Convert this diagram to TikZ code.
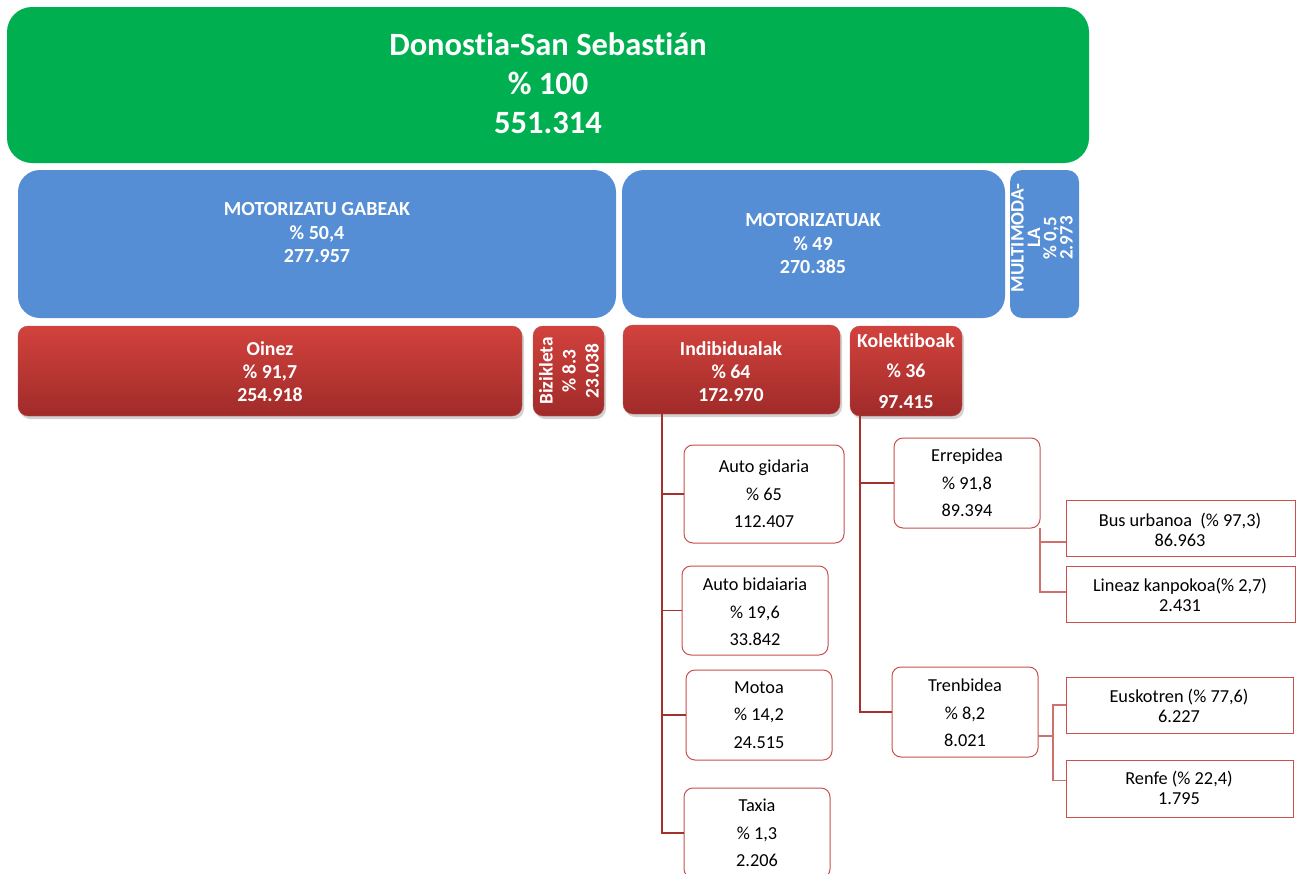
\documentclass[tikz,border=0pt]{standalone}
\usepackage{fontspec}
\setmainfont[Ligatures={NoCommon}]{Carlito}
\usetikzlibrary{shadows}
\definecolor{tgreen}{HTML}{00B050}
\definecolor{tblue}{HTML}{558ED5}
\definecolor{rtop}{HTML}{D2423D}
\definecolor{rbot}{HTML}{A02B29}
\definecolor{leafb}{HTML}{C9504D}
\definecolor{trunkc}{HTML}{A3312E}
\definecolor{twigc}{HTML}{D0706D}
\begin{document}
\begin{tikzpicture}[x=1pt,y=-1pt,
  boxbase/.style={rectangle, inner sep=0pt, outer sep=0pt, anchor=north west},
  greenbox/.style={boxbase, fill=tgreen, rounded corners=25pt},
  bluebox/.style={boxbase, fill=tblue, rounded corners=22pt},
  redbox/.style={boxbase, rounded corners=10pt, top color=rtop, bottom color=rbot, draw=rbot!80, line width=0.4pt,
     drop shadow={opacity=0.35, shadow xshift=2pt, shadow yshift=-3pt}},
  leafbox/.style={boxbase, rounded corners=9pt, draw=leafb, line width=1pt, fill=white},
  sqbox/.style={boxbase, draw=leafb, line width=1pt, fill=white},
  bigtxt/.style={align=center, text=white, font=\bfseries\fontsize{32.5}{39}\selectfont},
  bluetxt/.style={align=center, text=white, font=\bfseries\fontsize{20}{23.5}\selectfont},
  redtxt/.style={align=center, text=white, font=\bfseries\fontsize{19.8}{23}\selectfont},
  leaftxt/.style={align=center, text=black, font=\fontsize{18.3}{27.5}\selectfont},
  sqtxt/.style={align=center, text=black, font=\fontsize{18.3}{20}\selectfont},
  trunk/.style={draw=trunkc, line width=1.2pt},
  twig/.style={draw=twigc, line width=1.2pt}
]
\useasboundingbox[fill=white] (0,0) rectangle (1296,873);

% top
\node[greenbox, minimum width=1082pt, minimum height=156pt] (city) at (7,7) {};
\node[bigtxt] (cityt) at (548,83) {Donostia-San Sebastián\\\% 100\\551.314};

% blue level
\node[bluebox, minimum width=598pt, minimum height=148pt] (gabe) at (18,170) {};
\node[bluetxt] (gabet) at (317,233) {MOTORIZATU GABEAK\\\% 50,4\\277.957};
\node[bluebox, minimum width=383pt, minimum height=148pt] (moto) at (622,170) {};
\node[bluetxt] (motot) at (813,244) {MOTORIZATUAK\\\% 49\\270.385};
\node[bluebox, rounded corners=12pt, minimum width=69pt, minimum height=148pt] (multi) at (1010,170) {};
\node[rotate=90, align=center, text=white, font=\bfseries\fontsize{19}{16.3}\selectfont] (multit) at (1042,238)
  {MULTIMODA-\\LA\\\% 0,5\\2.973};

% red level
\node[redbox, minimum width=504pt, minimum height=90pt] (oinez) at (18,326) {};
\node[redtxt] (oinezt) at (270,372) {Oinez\\\% 91,7\\254.918};
\node[redbox, minimum width=71pt, minimum height=90pt] (bizi) at (533,326) {};
\node[redtxt, rotate=90, font=\bfseries\fontsize{19.3}{23}\selectfont] (bizit) at (569,371) {Bizikleta\\\% 8.3\\23.038};
\node[redbox, minimum width=217pt, minimum height=89pt] (indiv) at (623,325) {};
\node[redtxt] (indivt) at (731,372) {Indibidualak\\\% 64\\172.970};
\node[redbox, minimum width=112pt, minimum height=90pt] (kolek) at (850,326) {};
\node[redtxt, font=\bfseries\fontsize{19.8}{30.5}\selectfont] (kolekt) at (906,371) {Kolektiboak\\\% 36\\97.415};

% individual leaves
\node[leafbox, minimum width=160pt, minimum height=98pt] (autog) at (684,445) {};
\node[leaftxt] (autogt) at (764,494) {Auto gidaria\\\% 65\\112.407};
\node[leafbox, minimum width=146pt, minimum height=89pt] (autob) at (682,566) {};
\node[leaftxt] (autobt) at (755,612) {Auto bidaiaria\\\% 19,6\\33.842};
\node[leafbox, minimum width=146pt, minimum height=90pt] (motoa) at (686,670) {};
\node[leaftxt] (motoat) at (759,715) {Motoa\\\% 14,2\\24.515};
\node[leafbox, minimum width=146pt, minimum height=90pt] (taxia) at (684,788) {};
\node[leaftxt] (taxiat) at (757,833) {Taxia\\\% 1,3\\2.206};

% collective leaves
\node[leafbox, minimum width=146pt, minimum height=90pt] (errep) at (894,438) {};
\node[leaftxt] (erript) at (967,483) {Errepidea\\\% 91,8\\89.394};
\node[leafbox, minimum width=146pt, minimum height=90pt] (tren) at (892,667) {};
\node[leaftxt] (trent) at (965,713) {Trenbidea\\\% 8,2\\8.021};

\node[sqbox, minimum width=229pt, minimum height=56pt] (bus) at (1066,500) {};
\node[sqtxt] (bust) at (1180,530) {Bus urbanoa~~(\% 97,3)\\86.963};
\node[sqbox, minimum width=229pt, minimum height=56pt] (lineaz) at (1066,566) {};
\node[sqtxt] (lineazt) at (1180,595) {Lineaz kanpokoa(\% 2,7)\\2.431};
\node[sqbox, minimum width=227pt, minimum height=56pt] (eusko) at (1066,677) {};
\node[sqtxt] (euskot) at (1179,706) {Euskotren (\% 77,6)\\6.227};
\node[sqbox, minimum width=227pt, minimum height=57pt] (renfe) at (1066,760) {};
\node[sqtxt] (renfet) at (1179,788) {Renfe (\% 22,4)\\1.795};

% connectors: Indibidualak
\coordinate (itop) at ([xshift=39pt]indiv.south west);
\draw[trunk] (itop) |- (taxia.west);
\draw[trunk] (itop |- autog.west) -- (autog.west);
\draw[trunk] (itop |- autob.west) -- (autob.west);
\draw[trunk] (itop |- motoa.west) -- (motoa.west);

% connectors: Kolektiboak
\coordinate (ktop) at ([xshift=10pt]kolek.south west);
\draw[trunk] (ktop) |- (tren.west);
\draw[trunk] (ktop |- errep.west) -- (errep.west);

% Errepidea branches
\draw[twig] (errep.south east) |- ([yshift=2pt]lineaz.west);
\draw[twig] ([yshift=-14pt]errep.east |- bus.west) -- ([yshift=-14pt]bus.west);

% Trenbidea branches
\coordinate (tj) at ([xshift=15pt,yshift=-24pt]tren.east);
\draw[twig] ([yshift=-24pt]tren.east) -- (tj);
\draw[twig] (eusko.west) -| ([xshift=-13pt,yshift=8pt]renfe.west) -- ([yshift=8pt]renfe.west);
\end{tikzpicture}
\end{document}
